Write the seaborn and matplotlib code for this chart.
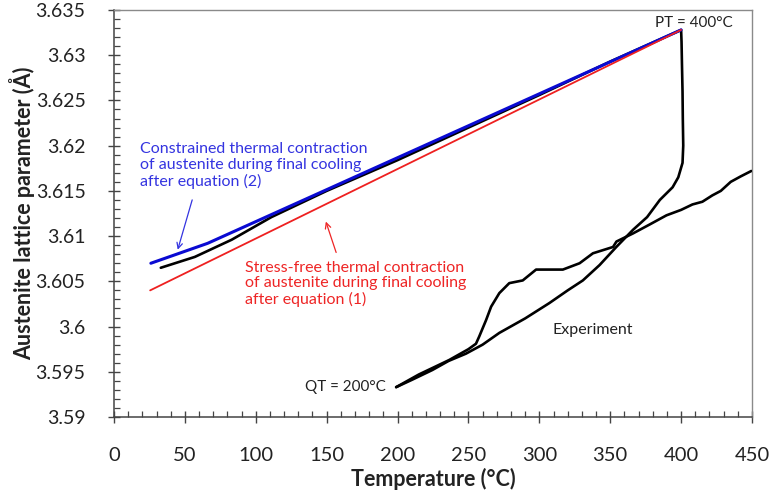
import numpy as np
import pandas as pd
import matplotlib
matplotlib.use("Agg")
import matplotlib.pyplot as plt
import seaborn as sns
from matplotlib.ticker import MultipleLocator, FuncFormatter

# ---------------- data ----------------
# Constrained thermal contraction (blue), equation (2)
blue_T = [26, 66, 400]
blue_a = [3.6070, 3.6092, 3.6328]

# Stress-free thermal contraction (red), equation (1)
red_T = [25.5, 400]
red_a = [3.6040, 3.6328]

# Experiment: from QT up to PT, isothermal hold, then final cooling
exp1_T = [199, 210, 224.6, 236, 248.2, 260, 271.8, 290, 307.1, 320, 330.7, 342.5,
          354.3, 366.1, 376, 385, 394, 398, 401, 401.5, 401.2, 401.0, 400.6, 400.3, 400,
          350, 300, 250, 200, 150, 111, 83, 57, 33]
exp1_a = [3.5933, 3.5941, 3.5952, 3.5962, 3.5970, 3.5980, 3.5993, 3.6009, 3.6026, 3.6040,
          3.6051, 3.6068, 3.6088, 3.6107, 3.6121, 3.6140, 3.6154, 3.6165, 3.6181, 3.6200,
          3.6230, 3.6260, 3.6290, 3.6315, 3.6328,
          3.6293, 3.6256, 3.6220, 3.6184, 3.6150, 3.6121, 3.6096, 3.6077, 3.6065]

# Experiment: second branch with bump
exp2_T = [199, 215, 236.4, 250, 255.3, 257.6, 262.4, 266, 271.8, 278.8, 288.3, 297.7,
          307, 316.6, 328.4, 337.8, 352, 354.4, 366.1, 378, 389.7, 400, 408, 415,
          422, 428, 435, 442, 449.5]
exp2_a = [3.5933, 3.5947, 3.5963, 3.5975, 3.5981, 3.5989, 3.6007, 3.6022, 3.6037, 3.6048,
          3.6051, 3.6063, 3.6063, 3.6063, 3.6070, 3.6081, 3.6088, 3.6094, 3.6103, 3.6113,
          3.6123, 3.6129, 3.6135, 3.6138, 3.6145, 3.6150, 3.6160, 3.6166, 3.6172]

x_ticks = list(range(0, 451, 50))
y_ticks = [3.59, 3.595, 3.6, 3.605, 3.61, 3.615, 3.62, 3.625, 3.63, 3.635]

# ---------------- plot ----------------
sns.set_style("ticks")
plt.rcParams['font.family'] = ['Lato', 'DejaVu Sans']

fig = plt.figure(figsize=(7.71, 4.99), dpi=100)
ax = fig.add_axes([114/771, 1-417/499, (752-114)/771, (417-10)/499])

df1 = pd.DataFrame({"T": exp1_T, "a": exp1_a})
df2 = pd.DataFrame({"T": exp2_T, "a": exp2_a})
dfb = pd.DataFrame({"T": blue_T, "a": blue_a})
dfr = pd.DataFrame({"T": red_T, "a": red_a})

kw = dict(sort=False, estimator=None, ax=ax)
sns.lineplot(data=df1, x="T", y="a", color="black", lw=1.9, zorder=3, **kw)
sns.lineplot(data=df2, x="T", y="a", color="black", lw=1.9, zorder=3, **kw)
sns.lineplot(data=dfb, x="T", y="a", color="#0a0ad2", lw=2.2, zorder=4, **kw)
sns.lineplot(data=dfr, x="T", y="a", color="#ee2020", lw=1.3, zorder=5, **kw)

ax.set_xlim(0, 450)
ax.set_ylim(3.59, 3.635)
ax.set_xticks(x_ticks)
ax.set_yticks(y_ticks)
ax.xaxis.set_minor_locator(MultipleLocator(10))
ax.yaxis.set_minor_locator(MultipleLocator(0.001))
ax.yaxis.set_major_formatter(FuncFormatter(lambda v, p: f"{v:g}"))
ax.tick_params(which="major", direction="inout", length=9, width=1.0, color="#444444",
               labelsize=14.5, labelcolor="#222222")
ax.tick_params(axis="x", which="major", pad=17)
ax.tick_params(axis="y", which="major", pad=16, labelsize=14)
ax.tick_params(which="minor", direction="in", length=4, width=0.9, color="#444444")

for s in ["left", "bottom"]:
    ax.spines[s].set_color("#444444")
    ax.spines[s].set_linewidth(1.1)
for s in ["top", "right"]:
    ax.spines[s].set_visible(True)
    ax.spines[s].set_color("#8a8a8a")
    ax.spines[s].set_linewidth(1.0)

ax.set_xlabel("Temperature (°C)", fontsize=15.5, fontweight="bold", color="#222222", labelpad=3)
ax.set_ylabel("Austenite lattice parameter (Å)", fontsize=15.5, fontweight="bold",
              color="#222222", labelpad=0)

ax.text(409, 3.6336, "PT = 400°C", fontsize=11, color="#222222", ha="center", va="center")
ax.text(192, 3.5933, "QT = 200°C", fontsize=11, color="#222222", ha="right", va="center")
ax.text(338, 3.5996, "Experiment", fontsize=11.5, color="#222222", ha="center", va="center")

ax.text(18.3, 3.6178, "Constrained thermal contraction\nof austenite during final cooling\nafter equation (2)",
        fontsize=11.5, color="#3434e0", ha="left", va="center", linespacing=1.15)
ax.annotate("", xy=(44.4, 3.6082), xytext=(55.7, 3.6143),
            arrowprops=dict(arrowstyle="->", color="#3434e0", lw=0.9))

ax.text(92.4, 3.6073, "Stress-free thermal contraction\nof austenite during final cooling\nafter equation (1)",
        fontsize=11.5, color="#ee2525", ha="left", va="top", linespacing=1.15)
ax.annotate("", xy=(148.8, 3.6119), xytext=(157.3, 3.6079),
            arrowprops=dict(arrowstyle="->", color="#ee2525", lw=0.9))

fig.savefig("out.png", dpi=100)
